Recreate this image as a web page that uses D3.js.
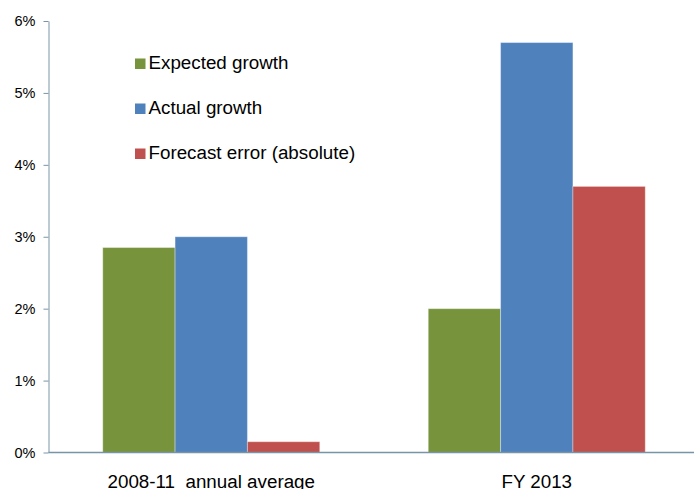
<!DOCTYPE html>
<html>
<head>
<meta charset="utf-8">
<script src="https://cdn.jsdelivr.net/npm/d3@7"></script>
<style>
  body { margin: 0; background: #fff; }
  svg { display: block; font-family: "Liberation Sans", Arial, sans-serif; }
</style>
</head>
<body>
<div id="chart"></div>
<script>
// Data
var categories = ['2008-11  annual average', 'FY 2013']
var seriesNames = ['Expected growth', 'Actual growth', 'Forecast error (absolute)']
var expectedGrowth = [0.0285, 0.020]
var actualGrowth = [0.030, 0.057]
var forecastError = [0.0015, 0.037]
var yTicks = [0, 0.01, 0.02, 0.03, 0.04, 0.05, 0.06]

var colors = ['#77933C', '#4F81BD', '#C0504D']
var axisColor = '#7895A8'

var seriesValues = [expectedGrowth, actualGrowth, forecastError]

// Setup: dimensions
var width = 694, height = 489
var svg = d3.select('#chart').append('svg')
  .attr('width', width)
  .attr('height', height)

// Setup: scales
var x = d3.scaleBand()
  .domain(categories)
  .range([48.5, 699.5])
  .padding(0)

var xInner = d3.scaleBand()
  .domain(seriesNames)
  .range([0, x.bandwidth()])
  .paddingInner(0)
  .paddingOuter(0.75)

var y = d3.scaleLinear()
  .domain([0, 0.06])
  .range([452.5, 21])

var rows = categories.map(function(c, i){
  return {
    category: c,
    values: seriesNames.map(function(s, j){ return {series: s, idx: j, value: seriesValues[j][i]} })
  }
})

// Bars
var group = svg.selectAll('.group')
  .data(rows)
  .enter().append('g')
    .attr('class', 'group')
    .attr('transform', function(d){ return 'translate(' + x(d.category) + ',0)' })

group.selectAll('rect')
  .data(function(d){ return d.values })
  .enter().append('rect')
    .attr('x', function(d){ return xInner(d.series) })
    .attr('y', function(d){ return y(d.value) })
    .attr('width', xInner.bandwidth())
    .attr('height', function(d){ return y(0) - y(d.value) })
    .style('fill', function(d){ return colors[d.idx] })
    .style('stroke', '#ffffff')
    .style('stroke-opacity', 0.35)
    .style('stroke-width', 1)

// Y axis
var yAxis = svg.append('g')
  .attr('class', 'axis axis--y')
  .attr('transform', 'translate(48.5,0)')
  .call(d3.axisLeft(y).tickValues(yTicks).tickFormat(d3.format('.0%')).tickSize(5).tickSizeOuter(0))

yAxis.select('.domain').style('stroke', axisColor)
yAxis.selectAll('.tick line').style('stroke', axisColor)
yAxis.selectAll('.tick text')
  .attr('x', -13)
  .style('font-size', '14.5px')
  .style('fill', '#000')

// X axis (baseline only)
svg.append('line')
  .attr('x1', 48.5)
  .attr('x2', width)
  .attr('y1', y(0))
  .attr('y2', y(0))
  .style('stroke', axisColor)
  .style('stroke-width', 1.5)

svg.selectAll('.xlabel')
  .data(categories)
  .enter().append('text')
    .attr('class', 'xlabel')
    .attr('x', function(d){ return x(d) + x.bandwidth() / 2 })
    .attr('y', 487.5)
    .style('text-anchor', 'middle')
    .style('font-size', '18.8px')
    .style('white-space', 'pre')
    .attr('xml:space', 'preserve')
    .style('fill', '#000')
    .text(function(d){ return d })

// Legend
var legend = svg.selectAll('.legend')
  .data(seriesNames)
  .enter().append('g')
    .attr('class', 'legend')
    .attr('transform', function(d, i){ return 'translate(135,' + (69 + i * 45) + ')' })

legend.append('rect')
  .attr('x', 0)
  .attr('y', -10.5)
  .attr('width', 10.5)
  .attr('height', 10.5)
  .style('fill', function(d, i){ return colors[i] })

legend.append('text')
  .attr('x', 13.5)
  .attr('y', 0)
  .style('font-size', '18.8px')
  .style('fill', '#000')
  .text(function(d){ return d })
</script>
</body>
</html>
